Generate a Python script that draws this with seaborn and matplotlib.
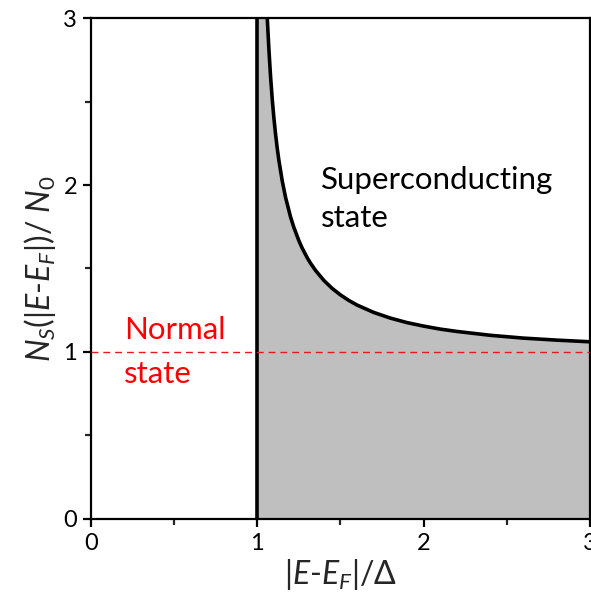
import numpy as np
import pandas as pd
import matplotlib
matplotlib.use("Agg")
import matplotlib.pyplot as plt
import seaborn as sns

# Data
gap_x = 1.0
curve_x = [1.0, 1.06, 1.07, 1.08, 1.09, 1.10, 1.11, 1.12, 1.13, 1.15, 1.17, 1.20, 1.22,
           1.25, 1.27, 1.30, 1.32, 1.35, 1.40, 1.45, 1.50, 1.55, 1.60, 1.70, 1.80, 1.90,
           2.00, 2.10, 2.20, 2.40, 2.60, 2.80, 3.00]
curve_y = [3.0, 3.000, 2.810, 2.648, 2.513, 2.400, 2.304, 2.220, 2.147, 2.025, 1.926,
           1.809, 1.746, 1.667, 1.622, 1.565, 1.532, 1.489, 1.429, 1.381, 1.342, 1.309,
           1.281, 1.237, 1.203, 1.176, 1.155, 1.137, 1.123, 1.100, 1.083, 1.071, 1.061]
normal_level = 1.0
x_ticks = [0, 1, 2, 3]
y_ticks = [0, 1, 2, 3]

sns.set_style("ticks")
FONT = "Lato"
plt.rcParams["font.family"] = [FONT, "DejaVu Sans"]
plt.rcParams["mathtext.fontset"] = "custom"
plt.rcParams["mathtext.it"] = f"{FONT}:italic"
plt.rcParams["mathtext.rm"] = FONT

fig = plt.figure(figsize=(5.91, 6.02), dpi=100)
ax = fig.add_axes([0.154, 0.138, 0.844, 0.832])

df = pd.DataFrame({"x": curve_x, "y": curve_y})
ax.fill_between(df["x"], df["y"], 0, color="#bfbfbf", zorder=1, linewidth=0)
sns.lineplot(data=df.iloc[1:], x="x", y="y", color="black", linewidth=2.6,
             sort=False, ax=ax, zorder=3)
ax.axvline(gap_x, color="black", linewidth=2.6, zorder=3)
ax.axhline(normal_level, color="#e8191b", linewidth=1.0, linestyle=(0, (5, 3.5)), zorder=4)

ax.set_xlim(0, 3)
ax.set_ylim(0, 3)
ax.set_xticks(x_ticks)
ax.set_yticks(y_ticks)
ax.set_xticks([0.5, 1.5, 2.5], minor=True)
ax.set_yticks([0.5, 1.5, 2.5], minor=True)
ax.tick_params(which="major", direction="out", length=6, width=1.6, labelsize=17,
               colors="black", pad=4)
ax.tick_params(which="minor", direction="out", length=4, width=1.6)
for s in ax.spines.values():
    s.set_linewidth(1.6)
    s.set_color("black")
    s.set_visible(True)

ax.set_xlabel(r"|$E$-$E_F$|/Δ", fontsize=23, labelpad=2)
ax.set_ylabel(r"$N_S$(|$E$-$E_F$|)/ $N_0$", fontsize=23, labelpad=4)

ax.text(0.2, 1.13, "Normal", color="#ff0000", fontsize=22.5, va="center", ha="left")
ax.text(0.2, 0.87, "state", color="#ff0000", fontsize=22.5, va="center", ha="left")
ax.text(1.38, 2.03, "Superconducting", color="black", fontsize=22.5,
        va="center", ha="left")
ax.text(1.38, 1.80, "state", color="black", fontsize=22.5,
        va="center", ha="left")

fig.savefig("out.png", dpi=100)
